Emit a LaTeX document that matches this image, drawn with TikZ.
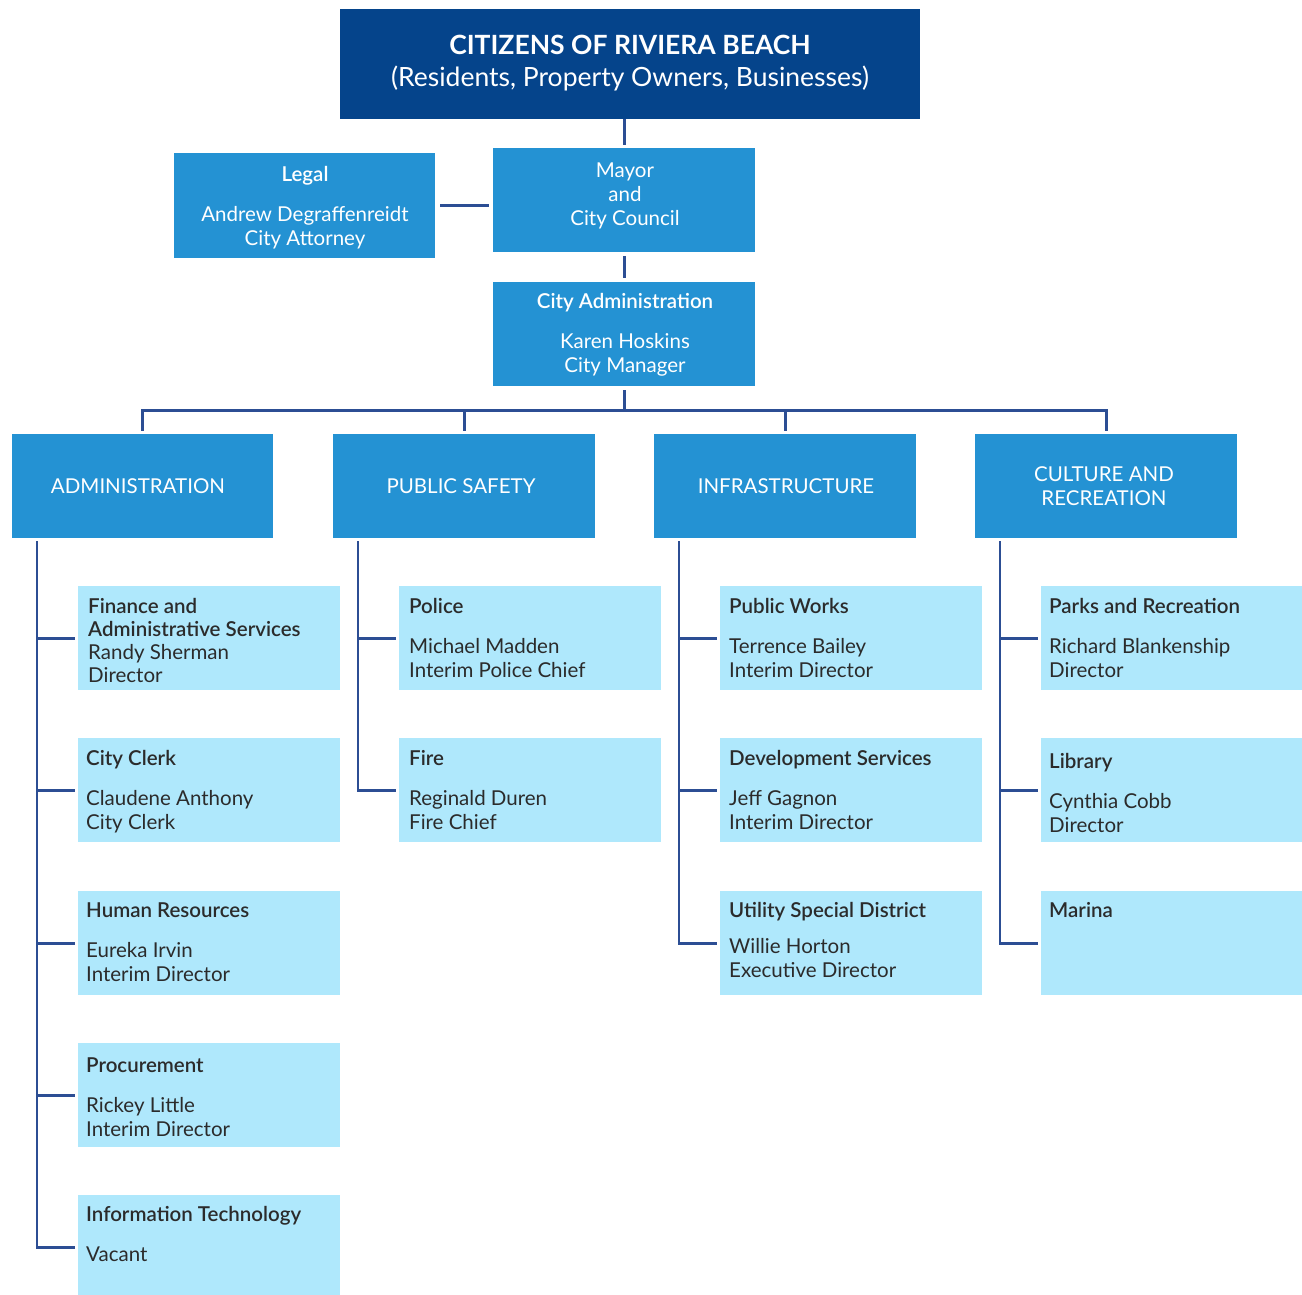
\documentclass[tikz,border=0pt]{standalone}
\usepackage{fontspec}
\setmainfont{Lato}
\IfFontExistsTF{Lato Semibold}{\newfontfamily\semibfam{Lato Semibold}\newcommand{\hdr}[1]{{\semibfam #1}}}{\newcommand{\hdr}[1]{\textbf{#1}}}
\usetikzlibrary{calc}
\definecolor{darkbox}{HTML}{05448B}
\definecolor{midbox}{HTML}{2492D3}
\definecolor{lightbox}{HTML}{AFE8FC}
\definecolor{lineblue}{HTML}{2C4E94}
\definecolor{txtdark}{HTML}{2B2B2B}
\newcommand{\fsz}{\fontsize{20.5}{24}\selectfont}
\begin{document}
\begin{tikzpicture}[x=1pt,y=-1pt,
  boxbase/.style={draw=none, inner sep=0pt, anchor=north west},
  topbox/.style={boxbase, fill=darkbox, minimum width=580pt, minimum height=110pt},
  midb/.style={boxbase, fill=midbox, minimum width=262pt, minimum height=104pt},
  leafb/.style={boxbase, fill=lightbox, minimum width=262pt, minimum height=104pt},
  ctxt/.style={inner sep=0pt, anchor=base, text=white, font=\fsz},
  ltxt/.style={inner sep=0pt, anchor=base west, text=txtdark, font=\fsz},
  conn/.style={draw=lineblue, line width=2.6pt},
]
\useasboundingbox (0,0) rectangle (1302,1294);
\fill[white] (0,0) rectangle (1302,1294);

% top levels
\node[topbox] (citizens) at (340,9) {};
\node[midb, minimum height=105pt, minimum width=261pt] (legal) at (174,153) {};
\node[midb] (mayor) at (493,148) {};
\node[midb] (cityadm) at (493,282) {};

\node[ctxt, font=\fontsize{26.5}{32}\selectfont] (t-citizens) at (630,54.5)
  {\begin{tabular}[t]{@{}c@{}}\textbf{CITIZENS OF RIVIERA BEACH}\\(Residents, Property Owners, Businesses)\end{tabular}};
\node[ctxt] (t-legal) at (305,181)
  {\begin{tabular}[t]{@{}c@{}}\hdr{Legal}\\[16pt]Andrew Degraffenreidt\\City Attorney\end{tabular}};
\node[ctxt] (t-mayor) at (625,177)
  {\begin{tabular}[t]{@{}c@{}}Mayor\\and\\City Council\end{tabular}};
\node[ctxt] (t-cityadm) at (625,308)
  {\begin{tabular}[t]{@{}c@{}}\hdr{City Administration}\\[16pt]Karen Hoskins\\City Manager\end{tabular}};

% categories
\node[midb, minimum width=261pt] (adm) at (12,434) {};
\node[midb] (pubs) at (333,434) {};
\node[midb] (infra) at (654,434) {};
\node[midb] (cult) at (975,434) {};
\node[ctxt] (t-adm) at (138,493.5) {ADMINISTRATION};
\node[ctxt] (t-pubs) at (461,493.5) {PUBLIC SAFETY};
\node[ctxt] (t-infra) at (786,493.5) {INFRASTRUCTURE};
\node[ctxt] (t-cult) at (1104,481.5)
  {\begin{tabular}[t]{@{}c@{}}CULTURE AND\\RECREATION\end{tabular}};

% administration children
\node[leafb] (fin) at (78,586) {};
\node[leafb] (clerk) at (78,738) {};
\node[leafb] (hr) at (78,891) {};
\node[leafb] (proc) at (78,1043) {};
\node[leafb] (it) at (78,1195) {};
% public safety children
\node[leafb] (police) at (399,586) {};
\node[leafb] (fire) at (399,738) {};
% infrastructure children
\node[leafb] (pw) at (720,586) {};
\node[leafb] (dev) at (720,738) {};
\node[leafb] (util) at (720,891) {};
% culture children
\node[leafb] (parks) at (1041,586) {};
\node[leafb] (lib) at (1041,738) {};
\node[leafb] (marina) at (1041,891) {};

% leaf texts
\node[ltxt, font=\fontsize{20.5}{23}\selectfont] (t-fin) at (88,613)
  {\begin{tabular}[t]{@{}l@{}}\hdr{Finance and}\\\hdr{Administrative Services}\\Randy Sherman\\Director\end{tabular}};
\node[ltxt] (t-clerk) at (86,765)
  {\begin{tabular}[t]{@{}l@{}}\hdr{City Clerk}\\[16pt]Claudene Anthony\\City Clerk\end{tabular}};
\node[ltxt] (t-hr) at (86,917)
  {\begin{tabular}[t]{@{}l@{}}\hdr{Human Resources}\\[16pt]Eureka Irvin\\Interim Director\end{tabular}};
\node[ltxt] (t-proc) at (86,1072)
  {\begin{tabular}[t]{@{}l@{}}\hdr{Procurement}\\[16pt]Rickey Little\\Interim Director\end{tabular}};
\node[ltxt] (t-it) at (86,1221)
  {\begin{tabular}[t]{@{}l@{}}\hdr{Information Technology}\\[16pt]Vacant\end{tabular}};
\node[ltxt] (t-police) at (409,613)
  {\begin{tabular}[t]{@{}l@{}}\hdr{Police}\\[16pt]Michael Madden\\Interim Police Chief\end{tabular}};
\node[ltxt] (t-fire) at (409,765)
  {\begin{tabular}[t]{@{}l@{}}\hdr{Fire}\\[16pt]Reginald Duren\\Fire Chief\end{tabular}};
\node[ltxt] (t-pw) at (729,613)
  {\begin{tabular}[t]{@{}l@{}}\hdr{Public Works}\\[16pt]Terrence Bailey\\Interim Director\end{tabular}};
\node[ltxt] (t-dev) at (729,765)
  {\begin{tabular}[t]{@{}l@{}}\hdr{Development Services}\\[16pt]Jeff Gagnon\\Interim Director\end{tabular}};
\node[ltxt] (t-util) at (729,917)
  {\begin{tabular}[t]{@{}l@{}}\hdr{Utility Special District}\\[12pt]Willie Horton\\Executive Director\end{tabular}};
\node[ltxt] (t-parks) at (1049,613)
  {\begin{tabular}[t]{@{}l@{}}\hdr{Parks and Recreation}\\[16pt]Richard Blankenship\\Director\end{tabular}};
\node[ltxt] (t-lib) at (1049,768)
  {\begin{tabular}[t]{@{}l@{}}\hdr{Library}\\[16pt]Cynthia Cobb\\Director\end{tabular}};
\node[ltxt] (t-marina) at (1049,917) {\hdr{Marina}};

% connectors: top
\draw[conn, shorten >=3pt] (citizens.south -| mayor.north) -- (mayor.north);
\draw[conn, shorten <=5pt, shorten >=4pt] (legal.east) -- (legal.east -| mayor.west);
\draw[conn, shorten <=4pt, shorten >=4pt] (mayor.south) -- (cityadm.north);
\coordinate (bus) at ($(cityadm.south)+(0,24)$);
\draw[conn, shorten <=4pt] (cityadm.south) -- (bus);
\draw[conn, shorten >=3pt] (bus) -| (adm.north);
\draw[conn, shorten >=3pt] (bus) -| (pubs.north);
\draw[conn, shorten >=3pt] (bus) -| (infra.north);
\draw[conn, shorten >=3pt] (bus) -| (cult.north);

% spines
\coordinate (admsp) at ($(adm.south west)+(25,3)$);
\coordinate (pubsp) at ($(pubs.south west)+(25,3)$);
\coordinate (infsp) at ($(infra.south west)+(25,3)$);
\coordinate (culsp) at ($(cult.south west)+(25,3)$);
\draw[conn, shorten >=3pt] (admsp) |- (it.west);
\draw[conn, shorten >=3pt] (pubsp) |- (fire.west);
\draw[conn, shorten >=3pt] (infsp) |- (util.west);
\draw[conn, shorten >=3pt] (culsp) |- (marina.west);
\foreach \c in {fin,clerk,hr,proc} \draw[conn, shorten >=3pt] (admsp |- \c.west) -- (\c.west);
\draw[conn, shorten >=3pt] (pubsp |- police.west) -- (police.west);
\foreach \c in {pw,dev} \draw[conn, shorten >=3pt] (infsp |- \c.west) -- (\c.west);
\foreach \c in {parks,lib} \draw[conn, shorten >=3pt] (culsp |- \c.west) -- (\c.west);
\end{tikzpicture}
\end{document}
